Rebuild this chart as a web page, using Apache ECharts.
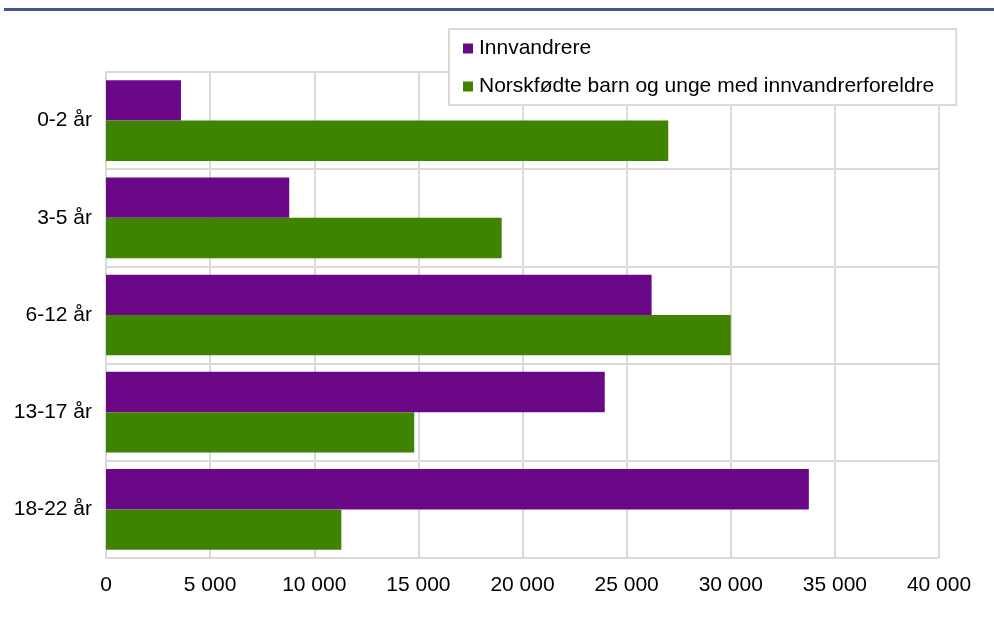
<!DOCTYPE html>
<html><head><meta charset="utf-8">
<script src="https://cdn.jsdelivr.net/npm/echarts@6/dist/echarts.min.js"></script>
<style>html,body{margin:0;padding:0;background:#fff}#c{width:994px;height:617px}</style>
</head><body><div id="c"></div>
<script>
const categories = ['0-2 år','3-5 år','6-12 år','13-17 år','18-22 år'];
const innvandrere = [3600, 8800, 26200, 23950, 33750];
const norskfodte = [27000, 19000, 30000, 14800, 11300];
const seriesNames = ['Innvandrere','Norskfødte barn og unge med innvandrerforeldre'];

const chart = echarts.init(document.getElementById('c'));
const font = '"Liberation Sans", Arial, sans-serif';
chart.setOption({
  animation: false,
  textStyle: {fontFamily: font},
  graphic: [{type:'rect', shape:{x:4,y:8,width:990,height:3}, style:{fill:'#3f5b8c'}}],
  grid: {left:106, right:55, top:72, bottom:59, containLabel:false},
  legend: {
    orient:'vertical', left:449, top:29,
    itemWidth:10, itemHeight:10, itemGap:17,
    padding:[9,22,8,14],
    backgroundColor:'#fff', borderColor:'#d9d9d9', borderWidth:2,
    textStyle:{fontSize:21, color:'#000', fontFamily:font, padding:[0,0,0,1]},
    icon:'rect', data: seriesNames
  },
  xAxis: {
    type:'value', min:0, max:40000, interval:5000,
    axisLine:{show:false}, axisTick:{show:false},
    splitLine:{lineStyle:{color:'#d9d9d9', width:2}},
    axisLabel:{fontSize:21, color:'#000', margin:17, fontFamily:font,
      formatter: v => String(v).replace(/\B(?=(\d{3})+(?!\d))/g,' ')}
  },
  yAxis: {
    type:'category', data:categories, inverse:true,
    axisLine:{show:true, lineStyle:{color:'#d9d9d9', width:2}}, axisTick:{show:false},
    splitLine:{show:true, lineStyle:{color:'#d9d9d9', width:2}},
    axisLabel:{fontSize:21, color:'#000', margin:14, fontFamily:font}
  },
  series: [
    {name:seriesNames[0], type:'bar', data:innvandrere, itemStyle:{color:'#6a0888'}, barGap:'0%', barCategoryGap:'17%'},
    {name:seriesNames[1], type:'bar', data:norskfodte, itemStyle:{color:'#3f8400'}, barGap:'0%', barCategoryGap:'17%'}
  ]
});
</script></body></html>
